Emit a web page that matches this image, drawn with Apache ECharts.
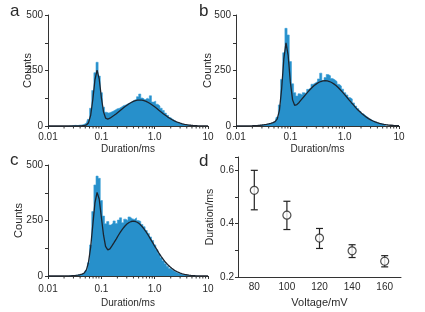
<!DOCTYPE html>
<html><head><meta charset="utf-8">
<script src="https://cdn.jsdelivr.net/npm/echarts@6/dist/echarts.min.js"></script>
<style>html,body{margin:0;padding:0;background:#fff}#c{width:425px;height:312px}</style>
</head><body><div id="c"></div>
<script>
// Histogram bin centres (ms), log-spaced
const binCenters = [0.0251,0.0275,0.0302,0.0331,0.0363,0.0398,0.0437,0.0479,0.0525,0.0575,
  0.0631,0.0692,0.0759,0.0832,0.0912,0.1,0.110,0.120,0.132,0.145,
  0.158,0.174,0.191,0.209,0.229,0.251,0.275,0.302,0.331,0.363,
  0.398,0.437,0.479,0.525,0.575,0.631,0.692,0.759,0.832,0.912,
  1.0,1.10,1.20,1.32,1.45,1.58,1.74,1.91,2.09,2.29,
  2.51,2.75,3.02,3.31,3.63,3.98,4.37,4.79,5.25,5.75,6.31];
const fitX = [0.01,0.0158,0.02].concat(binCenters,[7.94,10]);

// Panel a
const histA = [0,0,2,3,2,4,5,8,14,30,80,160,240,287,225,150,85,62,58,62,66,72,78,80,86,92,95,100,104,110,116,120,132,144,126,118,125,121,136,108,112,98,90,80,70,58,48,38,30,24,18,14,10,8,6,4,3,2,1,1,0];
const fitA = [0,0,0, 0,0,0.3,0.5,0.7,0.9,1.3,2.0,4.6,14.9,48.4,119.4,207.8,251.9,212.7,129.3,63.7,35.7,31.2,35.1,41.2,48.1,55.5,63.2,71.0,78.9,86.5,93.7,100.3,106.0,110.7,114.2,116.3,117,116.3,114.2,110.7,106.0,100.3,93.7,86.5,78.9,71.0,63.2,55.5,48.1,41.2,34.9,29.1,24.1,19.7,15.8,12.6,9.9,7.7,5.9,4.4,3.3,2.5,1.8,1.3, 0.6,0.2];
// Panel b
const histB = [2,3,4,5,7,9,12,15,22,40,95,210,330,440,410,290,190,150,135,145,140,150,146,165,172,188,194,200,212,238,205,218,232,226,214,208,200,188,180,166,150,140,128,122,104,90,78,66,56,48,40,33,27,22,18,14,11,9,7,5,4];
const fitB = [0.1,0.6,1.3, 2.6,3.4,4.5,5.8,7.5,9.5,12.0,15.1,19.8,32.0,71.8,168.1,302.5,374.9,317.8,198.7,117.7,93.2,96.2,106.2,117.9,129.5,141.4,152.6,163.4,173.2,182.2,189.7,195.8,200.3,203.0,204,203.0,200.3,195.8,189.7,182.2,173.2,163.4,152.6,141.4,129.5,117.9,106.1,94.9,83.8,73.4,63.9,55.1,46.9,39.8,33.3,27.5,22.6,18.5,15.0,12.0,9.5,7.5,5.8,4.5, 2.3,1.1];
// Panel c
const histC = [1,2,2,3,4,6,9,14,26,60,140,290,410,450,440,340,270,235,245,230,238,248,236,252,262,240,256,250,266,258,255,262,250,246,232,222,205,192,176,160,140,118,100,82,68,55,44,34,26,20,15,11,8,6,4,3,2,1,1,0,0];
const fitC = [0,0.1,0.5, 1.0,1.5,2.1,3.0,4.1,5.7,8.2,13.7,27.8,62.1,130.3,230.4,329.2,376.7,346.7,265.7,183.7,133.5,117.7,122.3,135.3,151.3,167.5,183.5,198.6,212.2,224.0,233.9,241.1,245.5,247,245.5,241.1,233.9,224.0,212.2,198.6,183.5,167.5,151.2,134.6,118.6,103.0,88.4,75.1,63.0,52.1,42.7,34.6,27.7,21.7,17.0,13.1,10.0,7.5,5.6,4.1,3.0,2.1,1.5,1.0, 0.4,0.1];

// Panel d
const voltages = ['80','100','120','140','160'];
const dwell   = [0.525,0.432,0.346,0.298,0.259];
const errLow  = [0.452,0.378,0.307,0.273,0.238];
const errHigh = [0.600,0.484,0.382,0.321,0.280];

const minorTicks = [0.02,0.03,0.04,0.05,0.06,0.07,0.08,0.09,0.2,0.3,0.4,0.5,0.6,0.7,0.8,0.9,2,3,4,5,6,7,8,9];

const FONT = 'Liberation Sans, Arial, Helvetica, sans-serif';
const TXT = '#2a2a2a', AX = '#333', BLUE = '#2790cb', FITC = '#1b2530';

function logX(gi, margin, nameGap){
  return {type:'log', gridIndex:gi, min:0.01, max:10, logBase:10,
    name:'Duration/ms', nameLocation:'middle', nameGap:nameGap, nameMoveOverlap:false,
    nameTextStyle:{fontSize:10, color:TXT, fontFamily:FONT},
    axisLine:{lineStyle:{color:AX, width:1}},
    axisTick:{length:3, lineStyle:{color:AX}},
    axisLabel:{margin:margin, fontSize:10, color:TXT, fontFamily:FONT, showMinLabel:true, showMaxLabel:true,
      formatter:v => Math.abs(v-1)<1e-9 ? '1.0' : String(+(+v).toPrecision(3))},
    splitLine:{show:false}};
}
function countsY(gi, nameGap){
  return {type:'value', gridIndex:gi, min:0, max:500, interval:125,
    name:'Counts', nameLocation:'middle', nameGap:nameGap, nameMoveOverlap:false,
    nameTextStyle:{fontSize:11, color:TXT, fontFamily:FONT},
    axisLine:{show:true, lineStyle:{color:AX, width:1}},
    axisTick:{show:true, length:3, lineStyle:{color:AX}},
    axisLabel:{margin:5, fontSize:10, color:TXT, fontFamily:FONT, formatter:v => (v%250===0 ? String(v) : '')},
    splitLine:{show:false}};
}
function histSeries(i, data){
  return {type:'line', xAxisIndex:i, yAxisIndex:i, data:binCenters.map((x,k)=>[x,data[k]]),
    step:'middle', symbol:'none', silent:true, z:2,
    lineStyle:{width:0.6, color:'#3a9fd6'}, areaStyle:{color:BLUE, opacity:1}};
}
function fitSeries(i, data){
  return {type:'line', xAxisIndex:i, yAxisIndex:i, data:fitX.map((x,k)=>[x,data[k]]),
    symbol:'none', silent:true, z:3, lineStyle:{width:1.3, color:FITC}};
}
function minorSeries(i){
  return {type:'custom', xAxisIndex:i, yAxisIndex:i, silent:true, z:4, clip:false,
    data:minorTicks.map(v=>[v,0]),
    renderItem:(p,api)=>{const c=api.coord([api.value(0),0]);
      return {type:'line', shape:{x1:c[0],y1:c[1],x2:c[0],y2:c[1]+2.5}, style:{stroke:AX,lineWidth:1}};}};
}

const chart = echarts.init(document.getElementById('c'), null, {renderer:'canvas'});
chart.setOption({
  animation:false,
  backgroundColor:'#fff',
  textStyle:{fontFamily:FONT},
  grid:[
    {left:48, top:15, width:160, height:111},
    {left:236, top:15, width:163, height:111},
    {left:48, top:165, width:160, height:111},
    {left:238, top:157, width:163, height:120}
  ],
  xAxis:[
    logX(0,6,18), logX(1,6,18), logX(2,8,22),
    {type:'category', gridIndex:3, data:voltages, boundaryGap:true,
      name:'Voltage/mV', nameLocation:'middle', nameGap:20, nameMoveOverlap:false,
      nameTextStyle:{fontSize:11, color:TXT, fontFamily:FONT},
      axisLine:{lineStyle:{color:AX}}, axisTick:{alignWithLabel:true, length:3, lineStyle:{color:AX}},
      axisLabel:{margin:5, fontSize:10, color:TXT, fontFamily:FONT}}
  ],
  yAxis:[
    countsY(0,15), countsY(1,23), countsY(2,24),
    {type:'value', gridIndex:3, min:0.2, max:0.65, interval:0.1,
      name:'Duration/ms', nameLocation:'middle', nameGap:22, nameMoveOverlap:false,
      nameTextStyle:{fontSize:10.5, color:TXT, fontFamily:FONT},
      axisLine:{show:true, lineStyle:{color:AX}}, axisTick:{show:true, length:3, lineStyle:{color:AX}},
      axisLabel:{margin:4, fontSize:10, color:TXT, fontFamily:FONT,
        formatter:v=>{const r=Math.round(v*10); return (Math.abs(v*10-r)<1e-6 && r%2===0 && r<=6) ? (r/10).toFixed(1) : '';}},
      splitLine:{show:false}}
  ],
  graphic:[
    {type:'text', left:10, top:3, style:{text:'a', fontSize:17, fontFamily:FONT, fill:TXT}},
    {type:'text', left:199, top:3, style:{text:'b', fontSize:17, fontFamily:FONT, fill:TXT}},
    {type:'text', left:10, top:152, style:{text:'c', fontSize:17, fontFamily:FONT, fill:TXT}},
    {type:'text', left:199, top:153, style:{text:'d', fontSize:17, fontFamily:FONT, fill:TXT}}
  ],
  series:[
    histSeries(0,histA), fitSeries(0,fitA), minorSeries(0),
    histSeries(1,histB), fitSeries(1,fitB), minorSeries(1),
    histSeries(2,histC), fitSeries(2,fitC), minorSeries(2),
    {type:'custom', xAxisIndex:3, yAxisIndex:3, silent:true, z:3,
      data:voltages.map((v,i)=>[i,errLow[i],errHigh[i]]), encode:{x:0, y:[1,2]},
      renderItem:(p,api)=>{
        const i=api.value(0), a=api.coord([i,api.value(2)]), b=api.coord([i,api.value(1)]), w=3.5;
        const st={stroke:'#222', lineWidth:1.2};
        return {type:'group', children:[
          {type:'line', shape:{x1:a[0],y1:a[1],x2:b[0],y2:b[1]}, style:st},
          {type:'line', shape:{x1:a[0]-w,y1:a[1],x2:a[0]+w,y2:a[1]}, style:st},
          {type:'line', shape:{x1:b[0]-w,y1:b[1],x2:b[0]+w,y2:b[1]}, style:st}]};
      }},
    {type:'scatter', xAxisIndex:3, yAxisIndex:3, data:dwell, symbol:'circle', symbolSize:8, z:5,
      itemStyle:{color:'#fff', borderColor:'#222', borderWidth:1.2}}
  ]
});
</script></body></html>
